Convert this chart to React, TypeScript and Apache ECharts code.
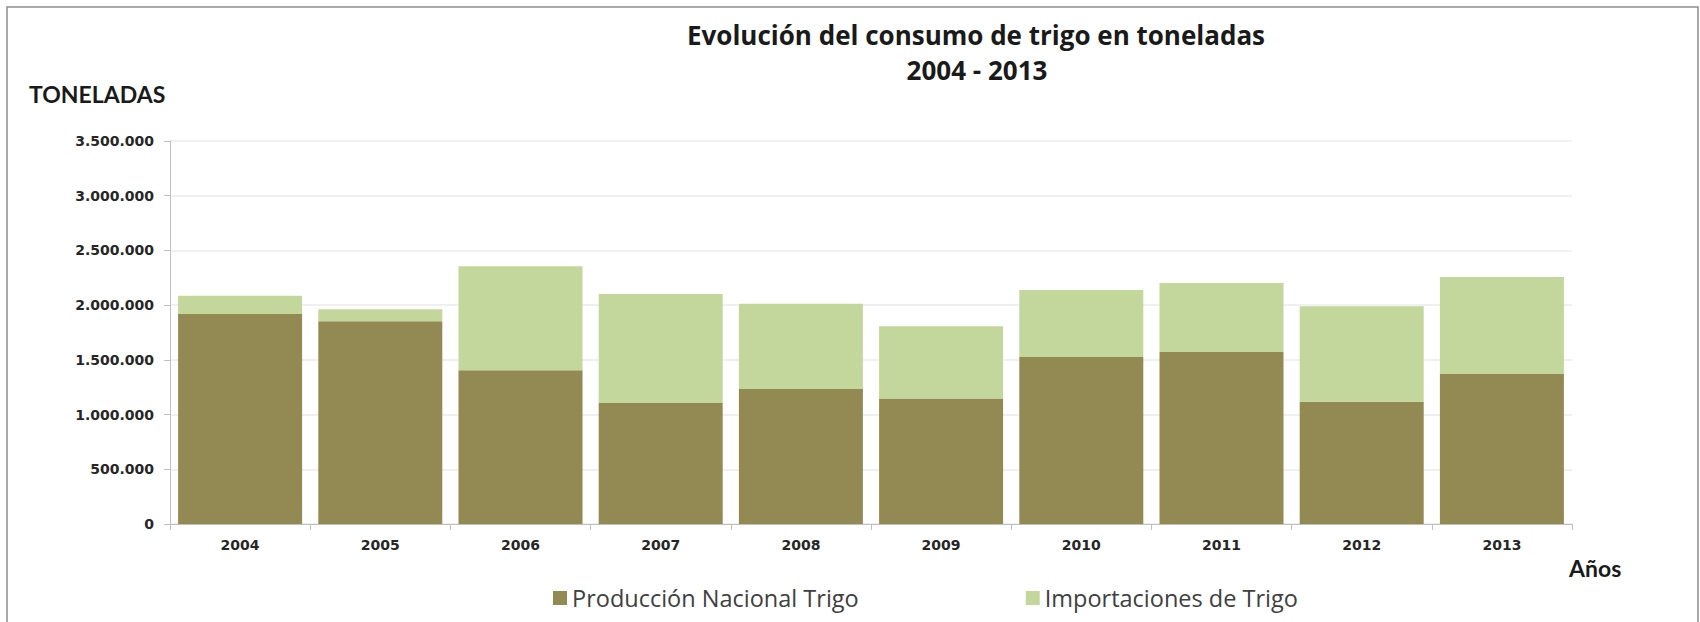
import React, { useEffect, useRef } from "react";
import * as echarts from "echarts";

const years = ["2004", "2005", "2006", "2007", "2008", "2009", "2010", "2011", "2012", "2013"];
const produccion = [1919000, 1852000, 1404000, 1106000, 1234000, 1148000, 1526000, 1572000, 1118000, 1371000];
const importaciones = [167000, 110000, 951000, 996000, 779000, 658000, 612000, 630000, 871000, 886000];
const seriesNames = ["Producción Nacional Trigo", "Importaciones de Trigo"];
const titleLines = ["Evolución del consumo de trigo en toneladas", "2004 - 2013"];
const yAxisTitle = "TONELADAS";
const xAxisTitle = "Años";

const fmt = (v: number) => String(v).replace(/\B(?=(\d{3})+(?!\d))/g, ".");

export default function App() {
  const ref = useRef<HTMLDivElement>(null);
  useEffect(() => {
    if (!ref.current) return;
    const chart = echarts.init(ref.current, null, { renderer: "svg" });
    chart.setOption({
      animation: false,
      backgroundColor: "#ffffff",
      grid: { left: 170, right: 128, top: 141, bottom: 98, containLabel: false },
      legend: {
        data: seriesNames,
        left: 553,
        top: 586,
        padding: 0,
        icon: "rect",
        itemWidth: 14,
        itemHeight: 14,
        itemGap: 167,
        textStyle: { fontFamily: "Open Sans", fontSize: 23.5, color: "#404040" },
      },
      xAxis: {
        type: "category",
        data: years,
        axisLine: { lineStyle: { color: "#bfbfbf", width: 1 } },
        axisTick: { show: true, length: 6, lineStyle: { color: "#bfbfbf" } },
        axisLabel: {
          margin: 14,
          fontFamily: "DejaVu Sans",
          fontWeight: "bold",
          fontSize: 14,
          color: "#262626",
        },
      },
      yAxis: {
        type: "value",
        min: 0,
        max: 3500000,
        interval: 500000,
        axisLine: { show: true, lineStyle: { color: "#bfbfbf", width: 1 } },
        axisTick: { show: true, length: 6, lineStyle: { color: "#bfbfbf" } },
        splitLine: { lineStyle: { color: "#ebebeb", width: 1.5 } },
        axisLabel: {
          margin: 16,
          fontFamily: "DejaVu Sans",
          fontWeight: "bold",
          fontSize: 14,
          color: "#262626",
          formatter: (v: number) => fmt(v),
        },
      },
      series: [
        {
          name: seriesNames[0],
          type: "bar",
          stack: "total",
          data: produccion,
          barWidth: 124,
          itemStyle: { color: "#938953" },
        },
        {
          name: seriesNames[1],
          type: "bar",
          stack: "total",
          data: importaciones,
          barWidth: 124,
          itemStyle: { color: "#c3d69b" },
        },
      ],
      graphic: [
        {
          type: "rect",
          shape: { x: 7, y: 7, width: 1691, height: 700 },
          style: { fill: "none", stroke: "#8f8f8f", lineWidth: 1.5 },
          silent: true,
        },
        {
          type: "text",
          x: 976,
          y: 35,
          style: {
            text: titleLines[0],
            fontFamily: "Open Sans",
            fontWeight: "bold",
            fontSize: 26,
            fill: "#1a1a1a",
            textAlign: "center",
            textVerticalAlign: "middle",
          },
        },
        {
          type: "text",
          x: 977,
          y: 70,
          style: {
            text: titleLines[1],
            fontFamily: "Open Sans",
            fontWeight: "bold",
            fontSize: 26,
            fill: "#1a1a1a",
            textAlign: "center",
            textVerticalAlign: "middle",
          },
        },
        {
          type: "text",
          x: 29,
          y: 94,
          style: {
            text: yAxisTitle,
            fontFamily: "Lato",
            fontWeight: "bold",
            fontSize: 23,
            fill: "#1a1a1a",
            textAlign: "left",
            textVerticalAlign: "middle",
          },
        },
        {
          type: "text",
          x: 1569,
          y: 568,
          style: {
            text: xAxisTitle,
            fontFamily: "Lato",
            fontWeight: "bold",
            fontSize: 23,
            fill: "#1a1a1a",
            textAlign: "left",
            textVerticalAlign: "middle",
          },
        },
      ],
    });
    return () => chart.dispose();
  }, []);
  return (
    <div
      ref={ref}
      style={{ position: "fixed", left: 0, top: 0, width: 1700, height: 622 }}
    />
  );
}
